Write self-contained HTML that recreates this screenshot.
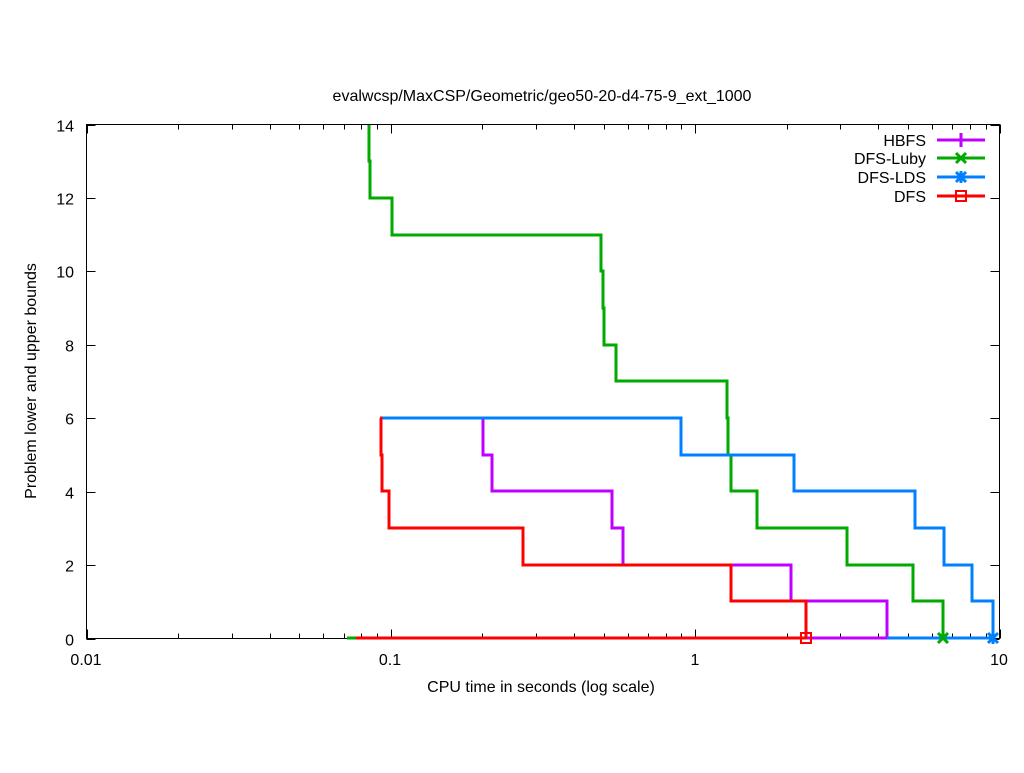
<!DOCTYPE html>
<html><head><meta charset="utf-8"><style>
html,body{margin:0;padding:0;background:#fff;}
svg text{font-family:"Liberation Sans",sans-serif;font-size:16px;fill:#000;}
</style></head><body>
<svg id="s" width="1024" height="768" xmlns="http://www.w3.org/2000/svg">
<rect width="1024" height="768" fill="#fff"/>
<text x="542" y="101" text-anchor="middle">evalwcsp/MaxCSP/Geometric/geo50-20-d4-75-9_ext_1000</text>
<text x="541" y="692" text-anchor="middle">CPU time in seconds (log scale)</text>
<text transform="translate(36,381) rotate(-90)" text-anchor="middle">Problem lower and upper bounds</text>
<g id="ax" stroke="#000" stroke-width="1" fill="none"></g>
<g id="lab"></g>
<g fill="none" stroke-width="3">
<polyline stroke="#0a0" points="347,638 356,638"/>
<polyline stroke="#c000ff" points="483,418 483,455 492,455 492,491 612,491 612,528 623,528 623,565 791,565 791,601 887,601 887,638"/>
<polyline stroke="#0a0" points="369,125 369,161 370,161 370,198 392,198 392,235 601,235 601,271 603,271 603,308 604,308 604,345 616,345 616,381 727,381 727,418 728,418 728,455 731,455 731,491 757,491 757,528 847,528 847,565 913,565 913,601 943,601 943,638"/>
<polyline stroke="#0080ff" points="380,418 681,418 681,455 794,455 794,491 915,491 915,528 944,528 944,565 972,565 972,601 993,601 993,638"/>
<polyline stroke="#0080ff" points="887,638 993,638"/>
<polyline stroke="#c000ff" points="806,638 887,638"/>
<polyline stroke="#f00" points="380,418 381,418 381,455 382,455 382,491 389,491 389,528 523,528 523,565 731,565 731,601 806,601 806,638 356,638"/>
<rect x="801" y="633" width="10" height="10" stroke="#f00" stroke-width="2"/>
<path d="M938,633 L948,643 M948,633 L938,643" stroke="#0a0" stroke-width="3"/>
<path d="M988,633 L998,643 M998,633 L988,643 M993,632 V644" stroke="#0080ff" stroke-width="3"/>
<line x1="937" y1="140" x2="985" y2="140" stroke="#c000ff"/>
<line x1="961" y1="133" x2="961" y2="147" stroke="#c000ff"/>
<line x1="937" y1="158" x2="985" y2="158" stroke="#0a0"/>
<path d="M956,153 L966,163 M966,153 L956,163" stroke="#0a0"/>
<line x1="937" y1="177" x2="985" y2="177" stroke="#0080ff"/>
<path d="M956,172 L966,182 M966,172 L956,182 M961,171 V183" stroke="#0080ff"/>
<line x1="937" y1="196" x2="985" y2="196" stroke="#f00"/>
<rect x="956" y="191" width="10" height="10" stroke="#f00" stroke-width="2"/>
</g>
<text x="926" y="146" text-anchor="end">HBFS</text>
<text x="926" y="164" text-anchor="end">DFS-Luby</text>
<text x="926" y="183" text-anchor="end">DFS-LDS</text>
<text x="926" y="202" text-anchor="end">DFS</text>
</svg>
<script>
var ax=document.getElementById('ax'),lab=document.getElementById('lab'),ns='http://www.w3.org/2000/svg';
function L(x1,y1,x2,y2){var l=document.createElementNS(ns,'line');l.setAttribute('x1',x1);l.setAttribute('y1',y1);l.setAttribute('x2',x2);l.setAttribute('y2',y2);ax.appendChild(l);}
function T(x,y,s,a){var t=document.createElementNS(ns,'text');t.setAttribute('x',x);t.setAttribute('y',y);t.setAttribute('text-anchor',a);t.textContent=s;lab.appendChild(t);}
var X0=86.5,X1=999.5,Y0=638.5,Y1=124.5;
var r=document.createElementNS(ns,'rect');r.setAttribute('x',X0);r.setAttribute('y',Y1);r.setAttribute('width',X1-X0);r.setAttribute('height',Y0-Y1);ax.appendChild(r);
var dec=(X1-X0)/3;
for(var d=0;d<3;d++){for(var k=1;k<=10;k++){var x=Math.round(X0+dec*(d+Math.log10(k)))+0.5;var len=(k==1||k==10)?9:5;L(x,Y0,x,Y0-len);L(x,Y1,x,Y1+len);}}
T(86,665,'0.01','middle');T(390,665,'0.1','middle');T(695,665,'1','middle');T(999,665,'10','middle');
for(var v=0;v<=14;v+=2){var y=Math.round(Y0-(Y0-Y1)*v/14)+0.5;L(X0,y,X0+9,y);L(X1,y,X1-9,y);T(74,y+6,String(v),'end');}
</script>
</body></html>
